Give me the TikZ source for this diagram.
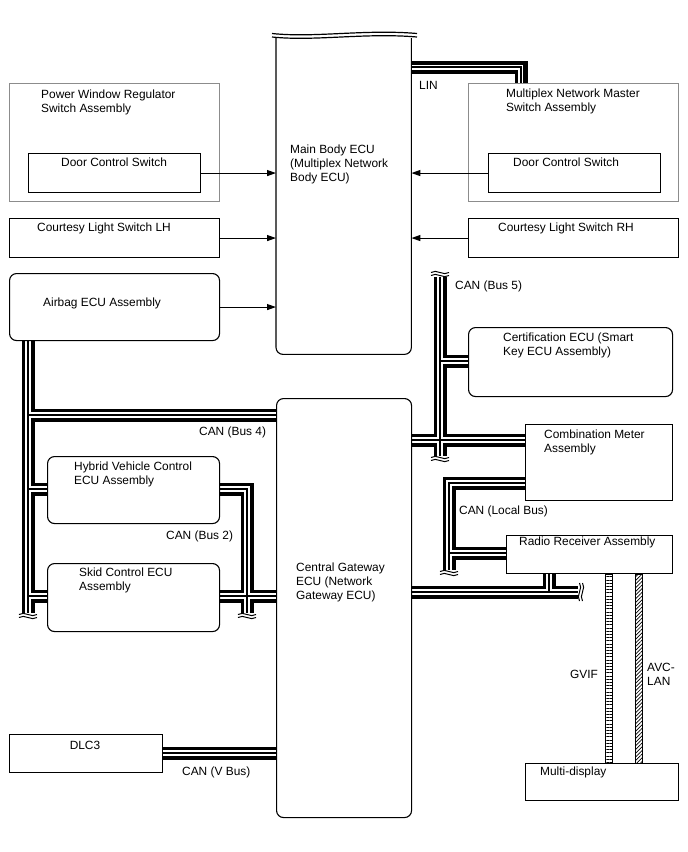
\documentclass[tikz,border=0pt]{standalone}
\usepackage{fontspec}
\setmainfont{Liberation Sans}
\usetikzlibrary{arrows.meta,patterns.meta,backgrounds}
\tikzset{
  brk/.pic={
    \draw[line width=1] (-9,1.5) .. controls (-4,-2.5) and (4,5.5) .. (9,1.5);
    \draw[line width=1] (-9,4.5) .. controls (-4,0.5) and (4,8.5) .. (9,4.5);
  }
}
\begin{document}
\begin{tikzpicture}[x=1pt,y=-1pt,
  every node/.style={font=\fontsize{11.9}{14}\selectfont},
  box/.style={draw, line width=1.1, inner sep=0, anchor=north west},
  rbox/.style={box, rounded corners=7},
  gbox/.style={draw=black!45, line width=1, inner sep=0, anchor=north west},
  txt/.style={inner sep=0, align=left, anchor=north west},
  arr/.style={line width=1.1, -{Triangle[length=9,width=6]}},
  busout/.style={line width=13, line join=miter, black},
  busin/.style={line width=6.6, line join=miter, white},
  buscore/.style={line width=1.4, line join=miter, black}
]
\useasboundingbox (0,0) rectangle (688,852);

% ---- upper part
\node[gbox, minimum width=210, minimum height=118] (pwr) at (9,83) {};
\node[txt] (pwrT) at (41,90) {Power Window Regulator\\Switch Assembly};
\node[box, minimum width=172, minimum height=39] (doorL) at (28,153) {};
\node[txt] (doorLT) at (61,158) {Door Control Switch};
\node[box, minimum width=210, minimum height=39] (cslh) at (9,218) {};
\node[txt] (cslhT) at (37,223) {Courtesy Light Switch LH};
\node[rbox, minimum width=210, minimum height=67] (airbag) at (9,273) {};
\node[txt] (airbagT) at (43,298) {Airbag ECU Assembly};

\node[inner sep=0, minimum width=135, minimum height=316, anchor=north west] (mb) at (276,38) {};
\draw[line width=1.1, rounded corners=7] (mb.north west) -- (mb.south west) -- (mb.south east) -- (mb.north east);
\draw[line width=1.2] (272,33.5) .. controls (315,38) and (365,29) .. (417,33.5);
\draw[line width=1.2] (272,37) .. controls (315,41.5) and (365,32.5) .. (417,37);
\node[txt] (mbT) at (290,145) {Main Body ECU\\(Multiplex Network\\Body ECU)};

\node[txt] (lin) at (419,81) {LIN};
\node[gbox, minimum width=210, minimum height=118] (mnm) at (468,83) {};
\node[txt] (mnmT) at (506,89) {Multiplex Network Master\\Switch Assembly};
\node[box, minimum width=172, minimum height=39] (doorR) at (488,153) {};
\node[txt] (doorRT) at (513,158) {Door Control Switch};
\node[box, minimum width=210, minimum height=39] (csrh) at (468,218) {};
\node[txt] (csrhT) at (498,223) {Courtesy Light Switch RH};

\draw[arr] (doorL.east) -- (doorL.east -| mb.west);
\draw[arr] (cslh.east) -- (cslh.east -| mb.west);
\draw[arr] (airbag.east) -- (airbag.east -| mb.west);
\draw[arr] (doorR.west) -- (doorR.west -| mb.east);
\draw[arr] (csrh.west) -- (csrh.west -| mb.east);

% ---- lower part
\node[rbox, minimum width=135, minimum height=419] (gw) at (276,398) {};
\node[txt] (gwT) at (296,563) {Central Gateway\\ECU (Network\\Gateway ECU)};
\node[rbox, minimum width=204, minimum height=69] (cert) at (468,327) {};
\node[txt] (certT) at (503,333) {Certification ECU (Smart\\Key ECU Assembly)};
\node[box, minimum width=147, minimum height=76] (meter) at (525,424) {};
\node[txt] (meterT) at (544,430) {Combination Meter\\Assembly};
\node[box, minimum width=166, minimum height=38] (radio) at (506,535) {};
\node[txt] (radioT) at (519,537) {Radio Receiver Assembly};
\node[box, minimum width=153, minimum height=37] (mdisp) at (525,763) {};
\node[txt] (mdispT) at (540,767) {Multi-display};
\node[box, minimum width=153, minimum height=38] (dlc) at (9,734) {};
\node[txt, anchor=north] (dlcT) at (85,741) {DLC3};
\node[rbox, minimum width=172, minimum height=67] (hv) at (47,456) {};
\node[txt] (hvT) at (74,462) {Hybrid Vehicle Control\\ECU Assembly};
\node[rbox, minimum width=172, minimum height=68] (skid) at (47,563) {};
\node[txt] (skidT) at (79,568) {Skid Control ECU\\Assembly};

\node[txt] (l4) at (199,427) {CAN (Bus 4)};
\node[txt] (l2) at (166,531) {CAN (Bus 2)};
\node[txt] (l5) at (455,281) {CAN (Bus 5)};
\node[txt] (llb) at (459,506) {CAN (Local Bus)};
\node[txt] (lv) at (182,767) {CAN (V Bus)};
\node[txt] (lg) at (570,670) {GVIF};
\node[txt] (la) at (647,663) {AVC-\\LAN};

% ---- bus coordinates
\coordinate (x4) at (28,0);
\coordinate (x2) at (247,0);
\coordinate (x5) at (440,0);
\coordinate (xl) at (449,0);
\coordinate (xr) at (549,0);
\coordinate (xlin) at (521,0);
\coordinate (xlin2) at (525,0);
\coordinate (ylin) at (0,67);
\coordinate (ylin2) at (0,63);
\coordinate (y4) at (0,415);
\coordinate (yhv) at (0,489);
\coordinate (ysk) at (0,596);
\coordinate (y5c) at (0,361);
\coordinate (y5) at (0,440);
\coordinate (ylb) at (0,483);
\coordinate (ylr) at (0,553);
\coordinate (yb) at (0,592);
\coordinate (yv) at (0,753);
\coordinate (e4) at (28,613);
\coordinate (e2) at (247,613);
\coordinate (e5t) at (440,277);
\coordinate (e5b) at (440,456);
\coordinate (elb) at (449,570);
\coordinate (ebr) at (578,592);
\coordinate (g1) at (605,0);
\coordinate (g2) at (612,0);
\coordinate (a1) at (635,0);
\coordinate (a2) at (642,0);

\def\busnet{
  (airbag.south -| x4) -- (e4)
  (x4 |- y4) -- (gw.west |- y4)
  (x4 |- yhv) -- (hv.west |- yhv)
  (x4 |- ysk) -- (skid.west |- ysk)
  (hv.east |- yhv) -- (x2 |- yhv) -- (e2)
  (skid.east |- ysk) -- (gw.west |- ysk)
  (e5t) -- (e5b)
  (x5 |- y5c) -- (cert.west |- y5c)
  (gw.east |- y5) -- (meter.west |- y5)
  (meter.west |- ylb) -- (xl |- ylb) -- (elb)
  (xl |- ylr) -- (radio.west |- ylr)
  (gw.east |- yb) -- (ebr)
  (radio.south -| xr) -- (xr |- yb)
  (dlc.east |- yv) -- (gw.west |- yv)
  (mb.east |- ylin) -- (xlin |- ylin) -- (mnm.north -| xlin)
}
\begin{scope}[on background layer]
  \draw[busout] \busnet;
  \draw[busin] \busnet;
  \draw[line width=4, line join=miter] (mb.east |- ylin2) -- (xlin2 |- ylin2) -- (mnm.north -| xlin2);
  \draw[buscore] \busnet;
\end{scope}

\pic at (e4) {brk};
\pic at (e2) {brk};
\pic at (e5b) {brk};
\pic[rotate=180] at (e5t) {brk};
\pic at (elb) {brk};
\pic[rotate=90] at (ebr) {brk};

\draw[line width=0.9, pattern={Lines[angle=0,distance=3.2pt,line width=0.9pt]}] (radio.south -| g1) rectangle (mdisp.north -| g2);
\draw[line width=0.9, pattern={Lines[angle=45,distance=2.6pt,line width=0.7pt]}] (radio.south -| a1) rectangle (mdisp.north -| a2);
\end{tikzpicture}
\end{document}
